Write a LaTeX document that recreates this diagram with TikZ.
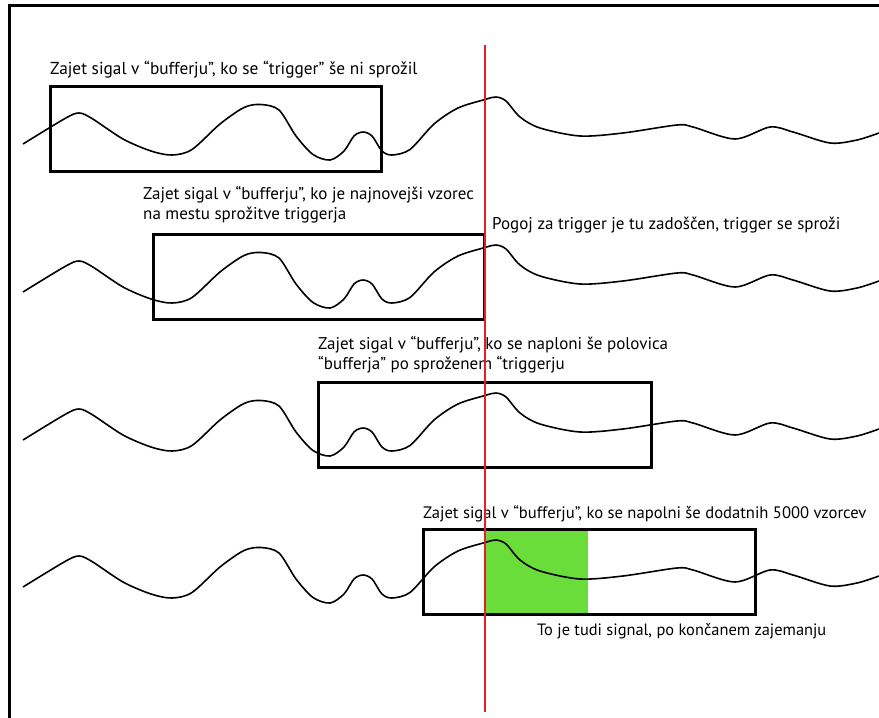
\documentclass[tikz,border=0pt]{standalone}
\usepackage{fontspec}
\setmainfont{PT Sans}
\usepackage{tikz}

\definecolor{trigred}{RGB}{232,30,36}
\definecolor{donegreen}{RGB}{106,221,58}

\tikzset{
  signal/.style={line width=1.6pt, line join=round},
  buffer/.style={line width=3pt},
  trigline/.style={trigred, line width=2.8pt},
  lbl/.style={anchor=base west, inner sep=0pt, font=\fontsize{17}{20}\selectfont, align=left}
}

% the same captured waveform, shifted down by #1
\newcommand{\waveform}[1]{
  \draw[signal, yshift=-#1pt] plot[smooth, tension=0.5] coordinates {
    (23,144) (65,118.5) (79,113) (92,118.5) (123,139) (151,151) (172,155)
    (192,149.5) (220,124) (244,107.5) (261,104.5) (279,110) (296,136)
    (313,154.5) (330,160) (344,151) (354,136) (363,132) (372,136) (382,151)
    (392,155) (410,149.5) (434,124) (458,108) (485,99.5) (496,97) (506,101)
    (520,117) (540,128) (580,136) (623,133) (677,125) (693,127) (735,139)
    (770,127) (793,132) (830,143) (857,140) (879,133)};
}

\begin{document}
\begin{tikzpicture}[x=1pt, y=-1pt]
    \useasboundingbox (0,0) rectangle (879,718);
    % frame
    \draw[line width=3pt] (9,718) -- (9,5) -- (879,5);

    % green part of the last buffer
    \fill[donegreen] (486,530) rectangle (588,613);

    % signals
    \waveform{0}
    \waveform{148}
    \waveform{296}
    \waveform{443}

    % buffers
    \draw[buffer] (50,86) rectangle (381,171);
    \draw[buffer] (153,234) rectangle (484,319);
    \draw[buffer] (318,382) rectangle (651,467);
    \draw[buffer] (423,529) rectangle (755,614);

    % labels (two-line ones sit on their last line)
    \node[lbl, font=\fontsize{17.3}{20}\selectfont] (t1) at (50,74) {Zajet sigal v “bufferju”, ko se “trigger” še ni sprožil};
    \node[lbl] (t2) at (143,219) {Zajet sigal v “bufferju”, ko je najnovejši vzorec\\na mestu sprožitve triggerja};
    \node[lbl] (t3) at (492,229) {Pogoj za trigger je tu zadoščen, trigger se sproži};
    \node[lbl] (t4) at (318,369) {Zajet sigal v “bufferju”, ko se naploni še polovica\\“bufferja” po sproženem “triggerju};
    \node[lbl, font=\fontsize{16.6}{19}\selectfont] (t5) at (423,518) {Zajet sigal v “bufferju”, ko se napolni še dodatnih 5000 vzorcev};
    \node[lbl, font=\fontsize{16.4}{19}\selectfont] (t6) at (537,635) {To je tudi signal, po končanem zajemanju};

    % trigger point
    \draw[trigline] (485,45) -- (485,712);
\end{tikzpicture}
\end{document}
